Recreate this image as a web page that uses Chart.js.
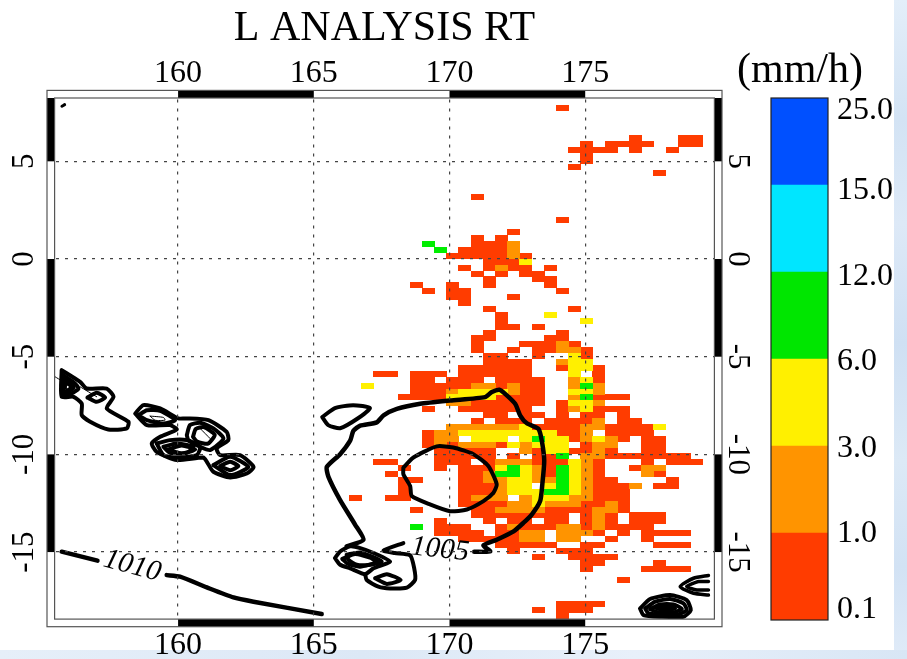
<!DOCTYPE html>
<html>
<head>
<meta charset="utf-8">
<title>L ANALYSIS RT</title>
<style>
html, body { margin: 0; padding: 0; background: #fff; overflow: hidden; }
body { width: 907px; height: 659px; position: relative; }
#stripRight { position: absolute; left: 894px; top: 0; width: 13px; height: 659px;
  background: linear-gradient(180deg, #e3eef9 0%, #d3e3f4 18%, #dde9f7 34%, #cfe0f3 52%, #dce9f6 70%, #d2e2f4 86%, #e0ebf8 100%); }
#stripBottom { position: absolute; left: 0; top: 650px; width: 907px; height: 9px;
  background: linear-gradient(90deg, #e6eff9 0%, #dce8f6 40%, #e8f0fa 70%, #d8e6f5 100%); }
#mainChart { position: absolute; left: 0; top: 0; }
#barChart { position: absolute; left: 770px; top: 78px; }
#unitLabel { position: absolute; left: 700px; width: 200px; top: 44px; text-align: center;
  font: 42px 'Liberation Serif', serif; color: #000; line-height: 48px; }
</style>
</head>
<body>
<div id="stripRight"></div>
<div id="stripBottom"></div>
<canvas id="mainChart" width="907" height="659"></canvas>
<canvas id="barChart" width="137" height="562"></canvas>
<div id="unitLabel">(mm/h)</div>
<script src="https://cdn.jsdelivr.net/npm/chart.js@4"></script>
<script>
var serif = "'Liberation Serif', serif";

var lonTicks = [160, 165, 170, 175];
var latTicks = [5, 0, -5, -10, -15];
var lonBands = [[160, 165], [170, 175]];
var latBands = [[8.63, 5], [0, -5], [-10, -15]];

// rain grid, 0.45 x 0.3 deg cells; one string per row from north to south
// . none, 1 = 0.1-1, 2 = 1-3, 3 = 3-6, 4 = 6-12
var rainLonStart = 166.53, rainLonStep = 0.4488;
var rainLatStart = 7.714, rainLatStep = 0.302;
var rainRows = [
    ".................1",
    "", "", "", "",
    ".......................1...11",
    "...................1.1111..11",
    "..................1111.1..1",
    "...................1",
    "...................1",
    "..................1",
    ".........................1",
    "", "", "",
    "..........1",
    "", "", "",
    ".................1",
    "",
    ".............1",
    "..........1.1",
    "......4...1112",
    ".......4.11112",
    "........1111121",
    "...........1113",
    ".........1.1211.1",
    "..........1.1.11",
    "...........1...11",
    ".....1..1..1....1",
    "......1.11.......1",
    "........11...1",
    ".........1",
    "...........1......1",
    "............1...3",
    "............1......3",
    "............11.1",
    "...........1.....1",
    "..........11....11",
    "..........1...11121",
    "..........1..1.11221",
    "...........11..1..31",
    "...........1111..233",
    ".........111111..1331",
    "..11.111.111111...3.1",
    ".....11.111.1111..231",
    ".3...11111221211..242",
    ".....11123333211..332",
    "....111133331111..24111",
    "........22111111.1332",
    "......1..111111..123111",
    "...........11.11.1.11.1",
    "..........1.111.11112.11",
    "........222222311112211113",
    "......12233333333112.1111",
    "......122.333.343312321.11",
    "......121222132333.122..11",
    ".......11111..21331121..11",
    ".......11111.1.114.221111111",
    "..11...111.1222111321...1.111",
    "....1..1.111343214321..122",
    "...1.....112443214321...21",
    "....11...1122332243211....1",
    "....1....111233.34321112.11",
    "....1....11123334432111",
    "1..11....1222.233322111",
    ".........11112232221121",
    ".....1....1122221111221",
    "..........11111111.121.111",
    ".......1...1.11.11.121.111",
    ".....4.111..1211122121111",
    ".......1111.1122.2221.1.1111",
    ".........1111122.22..1..1",
    "............11111..11....111",
    ".............1...111",
    "...............1..1111",
    "...................11....1",
    "...................1....1111",
    "",
    "......................1",
    "", "", "",
    ".................1111",
    "...............1.111",
    ".................1"
];
var rainColors = { 1: '#ff3c00', 2: '#ff9400', 3: '#fff000', 4: '#00ee00' };

// pressure contours in [lon, lat]
var line1005 = [[170.91,-14.98],[171.50,-14.97],[171.25,-14.66],[171.74,-14.37],[172.36,-13.94],[172.72,-13.51],[173.03,-13.08],[173.34,-12.39],[173.42,-11.53],[173.49,-10.33],[173.40,-9.30],[173.28,-8.70],[172.85,-8.41],[172.60,-8.00],[172.42,-7.41],[172.05,-6.90],[171.84,-6.69],[171.56,-6.81],[171.31,-7.07],[170.02,-7.24],[168.92,-7.41],[168.06,-7.67],[167.57,-8.00],[167.32,-8.36],[166.71,-8.53],[166.46,-8.79],[166.34,-9.30],[165.97,-9.99],[165.48,-10.64],[165.54,-11.15],[165.97,-12.34],[166.52,-13.59],[166.83,-14.37],[166.21,-14.71]];
var line1010a = [[155.71,-14.98],[157.03,-15.44]];
var line1010b = [[159.58,-16.18],[160.07,-16.26],[161.06,-16.81],[162.04,-17.32],[162.78,-17.54],[165.29,-18.17]];
var hook168 = [[168.30,-14.54],[167.57,-14.92],[167.98,-15.05],[168.55,-15.17],[168.70,-15.83],[168.73,-16.43],[168.43,-16.82],[167.81,-16.86],[167.38,-16.77],[166.95,-16.43],[166.89,-16.13]];
var dotNorth = [[155.72,7.82],[155.82,7.90]];

var closedThick = [
    [[168.30,-10.68],[168.67,-10.16],[169.53,-9.59],[170.14,-9.65],[170.88,-9.99],[171.43,-10.59],[171.74,-11.53],[171.62,-11.96],[171.25,-12.39],[170.64,-12.82],[170.02,-12.91],[169.28,-12.56],[168.61,-12.13],[168.55,-11.62],[168.30,-11.02]],
    [[165.31,-8.09],[165.78,-7.63],[166.45,-7.48],[167.07,-7.63],[166.63,-8.15],[165.97,-8.66],[165.53,-8.50]],
    [[165.78,-15.31],[165.97,-14.97],[166.34,-14.71],[166.71,-14.80],[167.20,-15.05],[167.81,-15.48],[167.20,-15.83],[166.89,-16.13],[166.34,-15.83],[165.97,-15.65]],
    [[166.21,-15.14],[166.71,-15.02],[167.50,-15.48],[167.07,-15.65],[166.58,-15.65],[166.28,-15.40]],
    [[166.05,-15.35],[166.52,-15.10],[167.10,-15.30],[167.30,-15.52],[166.70,-15.75],[166.25,-15.60]],
    [[167.26,-16.34],[167.69,-16.13],[168.20,-16.43],[167.69,-16.63]],
    [[155.71,-5.69],[156.39,-6.29],[156.63,-6.63],[157.37,-6.63],[157.62,-7.05],[157.37,-7.65],[158.17,-8.33],[158.11,-8.67],[157.43,-8.73],[156.76,-8.33],[156.45,-7.99],[156.45,-7.40],[156.14,-7.05],[155.71,-7.05]],
    [[155.77,-5.95],[156.20,-6.37],[156.33,-6.63],[156.08,-6.88],[155.77,-6.97]],
    [[155.84,-6.29],[156.08,-6.54],[155.84,-6.80]],
    [[155.74,-6.10],[156.05,-6.40],[156.15,-6.60],[155.74,-6.90]],
    [[156.66,-7.09],[157.00,-6.85],[157.31,-7.09],[157.00,-7.31]],
    [[158.42,-7.91],[158.72,-7.48],[159.34,-7.65],[160.01,-8.16],[160.26,-8.16],[161.12,-8.25],[161.79,-8.85],[161.85,-9.27],[161.42,-9.70],[161.55,-10.04],[162.28,-10.04],[162.78,-10.64],[162.53,-10.98],[161.92,-11.18],[161.30,-10.89],[161.06,-10.38],[160.93,-10.16],[159.95,-10.29],[159.21,-9.87],[159.03,-9.44],[159.34,-9.10],[159.95,-8.73],[159.70,-8.50],[158.85,-8.50]],
    [[158.54,-7.99],[158.85,-7.74],[159.34,-7.77],[159.89,-8.25],[159.46,-8.42],[158.85,-8.25]],
    [[159.21,-9.44],[159.70,-9.27],[160.32,-9.27],[160.81,-9.61],[160.69,-10.04],[159.95,-10.16],[159.46,-10.04]],
    [[159.46,-9.61],[159.95,-9.44],[160.56,-9.61],[160.32,-9.92],[159.70,-9.92]],
    [[159.64,-9.75],[160.13,-9.54],[160.63,-9.75],[160.13,-9.95]],
    [[160.32,-9.02],[160.44,-8.50],[160.81,-8.38],[161.30,-8.67],[161.67,-9.19],[161.18,-9.78],[160.81,-9.61],[160.38,-9.27]],
    [[160.55,-9.10],[160.65,-8.70],[160.95,-8.60],[161.35,-9.00],[161.10,-9.45],[160.70,-9.35]],
    [[161.30,-10.55],[161.92,-10.12],[162.59,-10.64],[161.92,-11.06]],
    [[161.55,-10.60],[161.92,-10.38],[162.22,-10.60],[161.92,-10.81]],
    [[177.02,-17.89],[177.39,-17.40],[178.13,-17.20],[178.74,-17.46],[178.89,-17.97],[178.62,-18.31],[177.76,-18.31],[177.15,-18.23]],
    [[177.21,-17.89],[177.58,-17.54],[178.13,-17.40],[178.62,-17.63],[178.74,-17.97],[178.44,-18.19],[177.76,-18.19],[177.33,-18.14]],
    [[177.39,-17.92],[177.76,-17.68],[178.25,-17.68],[178.56,-17.92],[178.25,-18.09],[177.70,-18.09]],
    [[177.64,-17.89],[178.01,-17.80],[178.31,-17.89],[178.01,-17.97]]
];
var openRight = [
    [[179.54,-16.20],[178.99,-16.34],[178.50,-16.77],[178.99,-17.11],[179.54,-17.20]],
    [[179.54,-16.51],[179.17,-16.51],[178.74,-16.77],[179.11,-16.94],[179.54,-16.94]]
];
var thinLines = [
    [[155.47,-6.03],[156.02,-6.54],[155.65,-6.85]],
    [[156.39,-6.54],[157.00,-7.05]],
    [[158.97,-8.04],[159.46,-8.11],[159.52,-8.25],[159.15,-8.25],[158.97,-8.04]],
    [[160.81,-8.67],[161.18,-9.19]]
];

var contourTexts = ['1005', '1010'];
var contourTextLons = [169.65, 158.31];
var contourTextLats = [-14.88, -15.72];
var contourTextAngles = [6, 15];

var barLabels = ['0.1', '1.0', '3.0', '6.0', '12.0', '15.0', '25.0'];
var barLabelSpots = [0.115, 0.99, 1.97, 2.966, 3.95, 4.94, 5.86];
var barColors = ['#ff3c00', '#ff9400', '#fff000', '#00e600', '#00e6ff', '#0050ff'];

function makeCell(color) {
    var c = document.createElement('canvas');
    c.width = 13;
    c.height = 6;
    var g = c.getContext('2d');
    g.fillStyle = color;
    g.fillRect(0, 0, 13, 6);
    return c;
}

function rainPoints(level) {
    var pts = [];
    rainRows.forEach(function (row, r) {
        for (var i = 0; i < row.length; i++) {
            if (row[i] === String(level)) {
                pts.push({ x: rainLonStart + i * rainLonStep, y: rainLatStart - r * rainLatStep });
            }
        }
    });
    return pts;
}

function contourSet(points, width, closed) {
    var data = points.map(function (p) { return { x: p[0], y: p[1] }; });
    if (closed) data.push(data[0]);
    return {
        data: data,
        showLine: true,
        borderColor: '#000',
        borderWidth: width,
        pointRadius: 0,
        tension: 0.2,
        borderCapStyle: 'round',
        borderJoinStyle: 'round',
        order: 0
    };
}

var mainDatasets = [];
mainDatasets.push(contourSet(line1005, 4.5, false));
mainDatasets.push(contourSet(line1010a, 4.5, false));
mainDatasets.push(contourSet(line1010b, 4.5, false));
mainDatasets.push(contourSet(hook168, 4, false));
mainDatasets.push(contourSet(dotNorth, 3, false));
closedThick.forEach(function (c) { mainDatasets.push(contourSet(c, 4, true)); });
openRight.forEach(function (c) { mainDatasets.push(contourSet(c, 3.5, false)); });
thinLines.forEach(function (c) { mainDatasets.push(contourSet(c, 1, false)); });
[4, 3, 2, 1].forEach(function (level) {
    mainDatasets.push({
        data: rainPoints(level),
        pointStyle: makeCell(rainColors[level]),
        pointRadius: 4,
        order: 5 - level
    });
});

// the zebra frame between the outer and inner box
var frameBands = {
    id: 'frameBands',
    afterDraw: function (chart) {
        var a = chart.chartArea, ctx = chart.ctx, t = 7.6;
        var x = chart.scales.x, y = chart.scales.y;
        ctx.save();
        ctx.fillStyle = '#fff';
        ctx.beginPath();
        ctx.rect(a.left, a.top, a.right - a.left, a.bottom - a.top);
        ctx.rect(a.left + t, a.top + t, a.right - a.left - 2 * t, a.bottom - a.top - 2 * t);
        ctx.fill('evenodd');
        ctx.fillStyle = '#000';
        lonBands.forEach(function (b) {
            var x0 = x.getPixelForValue(b[0]), x1 = x.getPixelForValue(b[1]);
            ctx.fillRect(x0, a.top, x1 - x0, t);
            ctx.fillRect(x0, a.bottom - t, x1 - x0, t);
        });
        latBands.forEach(function (b) {
            var y0 = Math.max(y.getPixelForValue(b[0]), a.top + t), y1 = y.getPixelForValue(b[1]);
            ctx.fillRect(a.left, y0, t, y1 - y0);
            ctx.fillRect(a.right - t, y0, t, y1 - y0);
        });
        ctx.strokeStyle = '#555';
        ctx.lineWidth = 1.2;
        ctx.strokeRect(a.left, a.top, a.right - a.left, a.bottom - a.top);
        ctx.strokeRect(a.left + t, a.top + t, a.right - a.left - 2 * t, a.bottom - a.top - 2 * t);
        ctx.restore();
    }
};

var contourLabels = {
    id: 'contourLabels',
    afterDatasetsDraw: function (chart) {
        var ctx = chart.ctx;
        ctx.save();
        ctx.fillStyle = '#000';
        ctx.font = "italic 29px " + serif;
        ctx.textAlign = 'center';
        ctx.textBaseline = 'middle';
        contourTexts.forEach(function (txt, i) {
            ctx.save();
            ctx.translate(chart.scales.x.getPixelForValue(contourTextLons[i]), chart.scales.y.getPixelForValue(contourTextLats[i]));
            ctx.rotate(contourTextAngles[i] * Math.PI / 180);
            ctx.fillText(txt, 0, 0);
            ctx.restore();
        });
        ctx.restore();
    }
};

function lonAxis(position, height, showGrid, pad) {
    return {
        type: 'linear',
        position: position,
        min: 155.17,
        max: 180.04,
        afterBuildTicks: function (s) { s.ticks = lonTicks.map(function (v) { return { value: v }; }); },
        afterFit: function (s) { s.height = height; },
        ticks: { color: '#000', font: { family: serif, size: 32 }, padding: pad, maxRotation: 0, autoSkip: false },
        grid: { display: showGrid, drawTicks: false, color: '#444', lineWidth: 1.2, z: 1 },
        border: { display: false, dash: [3, 6] }
    };
}

function latAxis(position, width, rotation, showGrid, pad) {
    return {
        type: 'linear',
        position: position,
        min: -18.82,
        max: 8.63,
        afterBuildTicks: function (s) { s.ticks = latTicks.map(function (v) { return { value: v }; }); },
        afterFit: function (s) { s.width = width; },
        ticks: { color: '#000', font: { family: serif, size: 31 }, padding: pad, minRotation: rotation, maxRotation: rotation, crossAlign: 'center', autoSkip: false },
        grid: { display: showGrid, drawTicks: false, color: '#444', lineWidth: 1.2, z: 1 },
        border: { display: false, dash: [3, 6] }
    };
}

new Chart(document.getElementById('mainChart'), {
    type: 'scatter',
    data: { datasets: mainDatasets },
    plugins: [contourLabels, frameBands],
    options: {
        responsive: false,
        animation: false,
        layout: { autoPadding: false },
        plugins: {
            legend: { display: false },
            tooltip: { enabled: false },
            title: {
                display: true,
                text: 'L ANALYSIS RT',
                color: '#000',
                fullSize: false,
                font: { family: serif, size: 42, weight: 'normal' },
                padding: { top: 4, bottom: 0 }
            }
        },
        scales: {
            x: lonAxis('bottom', 32.3, true, 0),
            xTop: lonAxis('top', 36, false, -2),
            y: latAxis('left', 47, 90, true, 1),
            yRight: latAxis('right', 185, -90, false, -6)
        }
    }
});

var barOutline = {
    id: 'barOutline',
    afterDraw: function (chart) {
        var a = chart.chartArea, ctx = chart.ctx;
        ctx.save();
        ctx.strokeStyle = '#222';
        ctx.lineWidth = 1.2;
        ctx.strokeRect(a.left, a.top, a.right - a.left, a.bottom - a.top);
        ctx.restore();
    }
};

new Chart(document.getElementById('barChart'), {
    type: 'bar',
    data: {
        labels: ['rain'],
        datasets: barColors.map(function (c) {
            return { data: [1], backgroundColor: c, borderWidth: 0, barPercentage: 1, categoryPercentage: 1 };
        })
    },
    plugins: [barOutline],
    options: {
        responsive: false,
        animation: false,
        layout: { autoPadding: false, padding: { left: 1, top: 20, bottom: 20 } },
        plugins: { legend: { display: false }, tooltip: { enabled: false } },
        scales: {
            x: { display: false, stacked: true },
            y: {
                stacked: true,
                position: 'right',
                min: 0,
                max: 6,
                afterBuildTicks: function (s) { s.ticks = barLabelSpots.map(function (v) { return { value: v }; }); },
                afterFit: function (s) {
                    s.width = 79;
                    s.paddingTop = 0;
                    s.paddingBottom = 0;
                },
                ticks: {
                    color: '#000',
                    font: { family: serif, size: 32 },
                    padding: 9,
                    autoSkip: false,
                    callback: function (value, index) { return barLabels[index]; }
                },
                grid: { display: false, drawTicks: false },
                border: { display: false }
            }
        }
    }
});
</script>
</body>
</html>
